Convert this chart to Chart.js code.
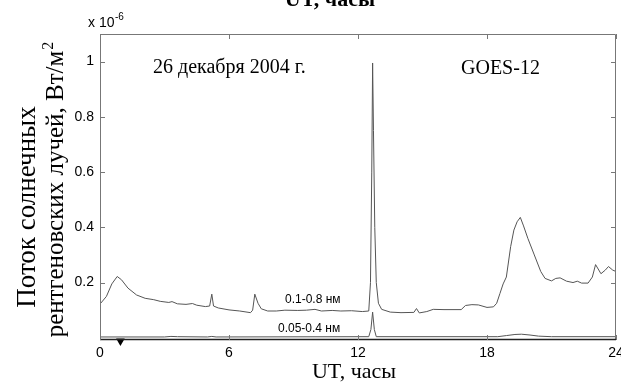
<!DOCTYPE html>
<html>
<head>
<meta charset="utf-8">
<script src="https://cdn.jsdelivr.net/npm/chart.js@4.4.1/dist/chart.umd.min.js"></script>
<style>
  html, body { margin: 0; padding: 0; background: #fff; }
  #wrap { width: 621px; height: 385px; }
</style>
</head>
<body>
<div id="wrap"><canvas id="c" width="621" height="385"></canvas></div>
<script>
// GOES-12 X-ray flux, 26 Dec 2004 (units of 1e-6 W/m^2), time in UT hours
const hoursLong = [0.0, 0.3, 0.55, 0.8, 1.0, 1.3, 1.7, 2.1, 2.5, 2.8, 3.2, 3.35, 3.6, 4.0, 4.3, 4.5, 4.9, 5.1, 5.2, 5.28, 5.5, 6.0, 6.5, 7.0, 7.1, 7.2, 7.35, 7.5, 7.8, 8.2, 8.6, 9.2, 9.6, 10.0, 10.3, 10.8, 11.2, 11.7, 12.2, 12.5, 12.58, 12.64, 12.68, 12.72, 12.78, 12.85, 12.95, 13.1, 13.5, 14.0, 14.6, 14.72, 14.85, 15.2, 15.5, 16.0, 16.8, 17.0, 17.3, 17.6, 18.0, 18.3, 18.45, 18.6, 18.75, 18.9, 19.1, 19.25, 19.4, 19.55, 19.7, 19.9, 20.2, 20.5, 20.7, 21.0, 21.2, 21.4, 21.7, 22.0, 22.2, 22.4, 22.7, 22.9, 23.05, 23.3, 23.5, 23.65, 23.85, 24.0];
const fluxLong = [0.122, 0.15, 0.195, 0.222, 0.21, 0.18, 0.155, 0.143, 0.138, 0.132, 0.128, 0.131, 0.123, 0.121, 0.124, 0.118, 0.113, 0.115, 0.158, 0.115, 0.108, 0.101, 0.097, 0.091, 0.1, 0.158, 0.125, 0.105, 0.097, 0.097, 0.1, 0.099, 0.1, 0.103, 0.097, 0.099, 0.097, 0.098, 0.095, 0.097, 0.2, 0.6, 0.995, 0.75, 0.4, 0.2, 0.125, 0.103, 0.093, 0.091, 0.092, 0.106, 0.09, 0.095, 0.103, 0.102, 0.102, 0.117, 0.12, 0.119, 0.11, 0.112, 0.125, 0.16, 0.195, 0.22, 0.33, 0.39, 0.42, 0.436, 0.405, 0.36, 0.30, 0.24, 0.215, 0.206, 0.215, 0.217, 0.205, 0.2, 0.205, 0.198, 0.198, 0.22, 0.265, 0.232, 0.245, 0.258, 0.245, 0.24];

const hoursShort = [0.0, 3.0, 3.3, 3.6, 5.0, 5.2, 5.4, 12.5, 12.6, 12.68, 12.76, 12.85, 18.5, 18.9, 19.3, 19.6, 20.0, 20.4, 21.0, 24.0];
const fluxShort = [0.003, 0.003, 0.005, 0.004, 0.003, 0.005, 0.003, 0.004, 0.03, 0.093, 0.03, 0.004, 0.004, 0.008, 0.012, 0.013, 0.01, 0.006, 0.004, 0.004];

// Event marker on the time axis
const markerHours = [0.95];
const markerFlux = [-0.012];

const xTicks = [0, 6, 12, 18, 24];
const yTicks = [0.2, 0.4, 0.6, 0.8, 1];

const pairs = (xs, ys) => xs.map((x, i) => ({ x: x, y: ys[i] }));

const SERIF = '"Liberation Serif", "Times New Roman", serif';
const SANS = '"Liberation Sans", Arial, sans-serif';

// Box frame with inward tick marks, and the free text on the figure
const decor = {
  id: 'decor',
  afterDraw(chart) {
    const { ctx, chartArea: a, scales } = chart;
    const xs = scales.x, ys = scales.y;
    ctx.save();
    ctx.lineWidth = 1;
    ctx.strokeStyle = '#777';
    ctx.beginPath();
    ctx.moveTo(a.left + 0.5, a.bottom);
    ctx.lineTo(a.left + 0.5, a.top + 0.5);
    ctx.lineTo(a.right - 0.5, a.top + 0.5);
    ctx.lineTo(a.right - 0.5, a.bottom);
    ctx.stroke();
    ctx.strokeStyle = '#222';
    ctx.lineWidth = 1.5;
    ctx.beginPath();
    ctx.moveTo(a.left, a.bottom - 0.5);
    ctx.lineTo(a.right, a.bottom - 0.5);
    ctx.stroke();

    ctx.strokeStyle = '#777';
    ctx.lineWidth = 1;
    const tl = 5;
    ctx.beginPath();
    xTicks.forEach(v => {
      const px = Math.round(xs.getPixelForValue(v)) + 0.5;
      ctx.moveTo(px, a.bottom); ctx.lineTo(px, a.bottom - tl);
      ctx.moveTo(px, a.top); ctx.lineTo(px, a.top + tl);
    });
    yTicks.forEach(v => {
      const py = Math.round(ys.getPixelForValue(v)) + 0.5;
      ctx.moveTo(a.left, py); ctx.lineTo(a.left + tl, py);
      ctx.moveTo(a.right, py); ctx.lineTo(a.right - tl, py);
    });
    ctx.stroke();

    ctx.fillStyle = '#000';
    ctx.textBaseline = 'alphabetic';

    // exponent of the flux axis
    ctx.font = '14px ' + SANS;
    ctx.textAlign = 'left';
    ctx.fillText('x 10', 88, 27);
    ctx.font = '10px ' + SANS;
    ctx.fillText('-6', 115, 20);

    // date and satellite
    ctx.font = '20px ' + SERIF;
    ctx.fillText('26 декабря 2004 г.', 153, 73);
    ctx.fillText('GOES-12', 461, 74);

    // channel labels
    ctx.font = '12px ' + SANS;
    ctx.fillText('0.1-0.8 нм', 285, 303);
    ctx.fillText('0.05-0.4 нм', 278, 332);

    // axis titles
    ctx.textAlign = 'center';
    ctx.font = '22px ' + SERIF;
    ctx.fillText('UT, часы', 354, 378);
    ctx.font = 'bold 22px ' + SERIF;
    ctx.fillText('UT, часы', 330, 6);

    ctx.save();
    ctx.translate(35, 207);
    ctx.rotate(-Math.PI / 2);
    ctx.font = '27px ' + SERIF;
    ctx.fillText('Поток солнечных', 0, 0);
    ctx.restore();

    ctx.save();
    ctx.translate(63, 190);
    ctx.rotate(-Math.PI / 2);
    ctx.font = '25px ' + SERIF;
    const main = 'рентгеновских лучей, Вт/м';
    const w = ctx.measureText(main).width;
    ctx.font = '16px ' + SERIF;
    const sw = ctx.measureText('2').width;
    ctx.font = '25px ' + SERIF;
    ctx.textAlign = 'left';
    const x0 = -(w + sw) / 2;
    ctx.fillText(main, x0, 0);
    ctx.font = '16px ' + SERIF;
    ctx.fillText('2', x0 + w + 1, -10);
    ctx.restore();

    ctx.restore();
  }
};

new Chart(document.getElementById('c'), {
  type: 'scatter',
  data: {
    datasets: [
      {
        label: '0.1-0.8 нм',
        data: pairs(hoursLong, fluxLong),
        showLine: true,
        borderColor: '#555',
        borderWidth: 1,
        pointRadius: 0,
        tension: 0
      },
      {
        label: '0.05-0.4 нм',
        data: pairs(hoursShort, fluxShort),
        showLine: true,
        borderColor: '#555',
        borderWidth: 1,
        pointRadius: 0,
        tension: 0
      },
      {
        label: 'marker',
        data: pairs(markerHours, markerFlux),
        showLine: false,
        pointStyle: 'triangle',
        rotation: 180,
        pointRadius: 5,
        backgroundColor: '#000',
        borderColor: '#000',
        borderWidth: 0,
        clip: false
      }
    ]
  },
  options: {
    responsive: false,
    animation: false,
    devicePixelRatio: 1,
    layout: { padding: { top: 34, right: 5, bottom: 0, left: 0 } },
    plugins: { legend: { display: false }, tooltip: { enabled: false } },
    scales: {
      x: {
        type: 'linear',
        min: 0,
        max: 24,
        grid: { display: false, drawTicks: false },
        border: { display: false },
        ticks: {
          color: '#000',
          font: { family: SANS, size: 14 },
          padding: 5,
          maxRotation: 0,
          autoSkip: false
        },
        afterBuildTicks: s => { s.ticks = xTicks.map(v => ({ value: v })); },
        afterFit: s => { s.height = 45; s.paddingLeft = 0; s.paddingRight = 0; }
      },
      y: {
        type: 'linear',
        min: -0.008,
        max: 1.1,
        grid: { display: false, drawTicks: false },
        border: { display: false },
        ticks: {
          color: '#000',
          font: { family: SANS, size: 14 },
          padding: 6,
          callback: v => String(Math.round(v * 10) / 10)
        },
        afterBuildTicks: s => { s.ticks = yTicks.map(v => ({ value: v })); },
        afterFit: s => { s.width = 100; s.paddingTop = 0; s.paddingBottom = 0; }
      }
    }
  },
  plugins: [decor]
});
</script>
</body>
</html>
